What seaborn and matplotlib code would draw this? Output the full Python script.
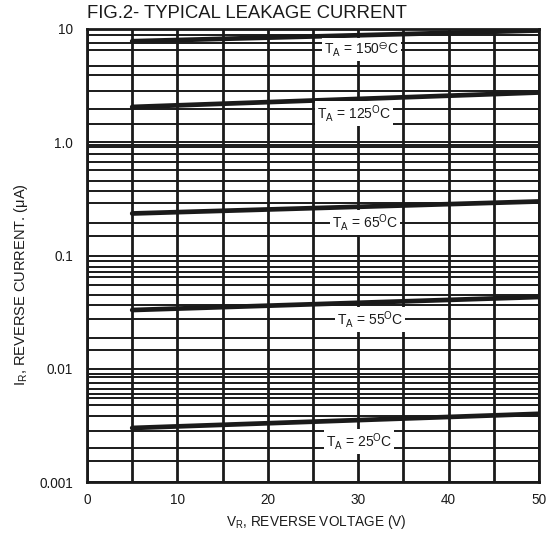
import numpy as np
import pandas as pd
import matplotlib
matplotlib.use("Agg")
import matplotlib.pyplot as plt
from matplotlib.ticker import FixedLocator, NullFormatter, FixedFormatter
import seaborn as sns

# ---- data ----
voltage = [5, 50]
i_150 = [7.8, 9.7]
i_125 = [2.05, 2.75]
i_65 = [0.235, 0.30]
i_55 = [0.033, 0.043]
i_25 = [0.0030, 0.0040]
temps = ["150", "125", "65", "55", "25"]

x_ticks = [0, 10, 20, 30, 40, 50]
x_minor = [5, 15, 25, 35, 45]
y_ticks = [10, 1, 0.1, 0.01, 0.001]
y_tick_labels = ["10", "1.0", "0.1", "0.01", "0.001"]
# printed grid of the datasheet (irregular)
y_grid = [8.78, 7.56, 6.58, 4.72, 3.92, 2.82, 1.97, 1.45,
          0.949, 0.901, 0.787, 0.676, 0.567, 0.455, 0.374, 0.288, 0.192, 0.149,
          0.0889, 0.0797, 0.0719, 0.0649, 0.0547, 0.0450, 0.0369, 0.0273, 0.0186, 0.0146,
          0.00905, 0.00847, 0.00756, 0.00657, 0.00594, 0.00556, 0.00481, 0.0038,
          0.00282, 0.0020, 0.00152]

label_x = [30.4, 29.5, 30.75, 31.3, 30.1]
label_y = [6.58, 1.8, 0.195, 0.0273, 0.00228]
label_sup = ["\u2296", "O", "O", "O", "O"]

series = [i_150, i_125, i_65, i_55, i_25]
rows = []
for t, vals in zip(temps, series):
    for v, i in zip(voltage, vals):
        rows.append({"V": v, "I": i, "T": t})
df = pd.DataFrame(rows)

sns.set_theme(style="white")
plt.rcParams["font.family"] = ["Liberation Sans", "DejaVu Sans"]
plt.rcParams["mathtext.fontset"] = "custom"
plt.rcParams["mathtext.rm"] = "Liberation Sans"

fig = plt.figure(figsize=(5.55, 5.38), dpi=100)
ax = fig.add_axes([87 / 555, 1 - 482 / 538, (539 - 87) / 555, (482 - 29) / 538])

ax.set_yscale("log")
ax.set_xlim(0, 50)
ax.set_ylim(0.001, 10)

# grid
ax.xaxis.set_major_locator(FixedLocator(x_ticks))
ax.xaxis.set_minor_locator(FixedLocator(x_minor))
ax.yaxis.set_major_locator(FixedLocator(y_ticks))
ax.yaxis.set_major_formatter(FixedFormatter(y_tick_labels))
ax.yaxis.set_minor_locator(FixedLocator(y_grid))
ax.yaxis.set_minor_formatter(NullFormatter())
ax.grid(True, which="both", axis="x", color="#1a1a1a", linewidth=2.0)
ax.grid(True, which="both", axis="y", color="#1a1a1a", linewidth=1.4)
ax.set_axisbelow(True)

sns.lineplot(data=df, x="V", y="I", hue="T", palette=["#1a1a1a"] * 5,
             linewidth=3.4, legend=False, ax=ax, zorder=3)

for t, lx, ly, s in zip(temps, label_x, label_y, label_sup):
    ax.text(lx, ly, r"T$_\mathregular{A}$ = " + t + r"$^\mathregular{" + s + "}$C",
            ha="center", va="center", fontsize=10, color="#1a1a1a", zorder=4,
            bbox=dict(facecolor="white", edgecolor="none", pad=1.5))

for sp in ax.spines.values():
    sp.set_color("#1a1a1a")
    sp.set_linewidth(2.0)
    sp.set_visible(True)

ax.tick_params(axis="both", which="both", length=0, labelsize=9.8, colors="#1a1a1a")
ax.tick_params(axis="x", pad=8)
ax.tick_params(axis="y", pad=10)
ax.set_xlabel("")
ax.set_ylabel("")

fig.text(87 / 555, 1 - 14 / 538, "FIG.2- TYPICAL LEAKAGE CURRENT", ha="left",
         va="center", fontsize=13.3, color="#1a1a1a")
fig.text((228 + 404) / 2 / 555, 1 - 522 / 538,
         r"V$_\mathregular{R}$, REVERSE VOLTAGE (V)", ha="center", va="center",
         fontsize=9.8, color="#1a1a1a")
fig.text(21 / 555, 1 - 285 / 538, r"I$_\mathregular{R}$, REVERSE CURRENT. (μA)",
         ha="center", va="center", rotation=90, fontsize=10.5, color="#1a1a1a")

fig.savefig("out.png", dpi=100)
